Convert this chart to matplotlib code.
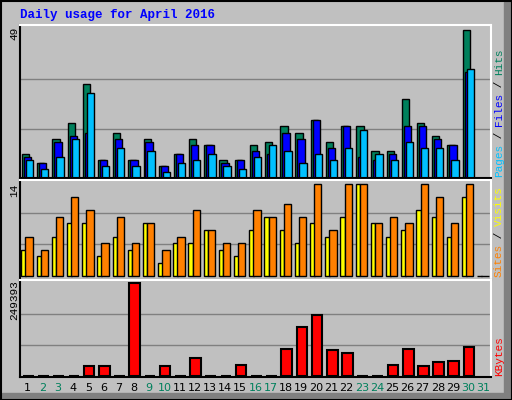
import matplotlib.pyplot as plt
import matplotlib.patches as patches
import numpy as np

days = np.arange(1, 32)
hits = [8, 5, 13, 18, 31, 6, 15, 6, 13, 4, 8, 13, 11, 6, 6, 11, 12, 17, 15, 19, 12, 17, 17, 9, 9, 26, 18, 14, 11, 49, 0]
files = [7, 5, 12, 14, 15, 6, 13, 6, 12, 4, 8, 11, 11, 5, 6, 9, 8, 15, 13, 19, 10, 17, 7, 6, 8, 17, 17, 13, 11, 35, 0]
pages = [6, 3, 7, 13, 28, 4, 10, 4, 9, 2, 5, 6, 8, 4, 3, 7, 11, 9, 5, 8, 6, 10, 16, 8, 6, 12, 10, 10, 6, 36, 0]
sites = [4, 3, 6, 8, 8, 3, 6, 4, 8, 2, 5, 5, 7, 4, 3, 7, 9, 7, 5, 8, 6, 9, 14, 8, 6, 7, 10, 9, 6, 12, 0]
visits = [6, 4, 9, 12, 10, 5, 9, 5, 8, 4, 6, 10, 7, 5, 5, 10, 9, 11, 9, 14, 7, 14, 14, 8, 9, 8, 14, 12, 8, 14, 0]
kbytes = [0, 0, 0, 0, 25500, 25500, 0, 249393, 0, 25500, 0, 47300, 0, 0, 28200, 0, 0,
          71900, 132000, 164700, 69200, 61000, 0, 0, 28200, 71900, 25500, 36400, 39100, 77400, 0]
weekend = [2, 3, 9, 10, 16, 17, 23, 24, 30, 31]

W, H = 512, 400
fig = plt.figure(figsize=(W / 100, H / 100), dpi=100)
fig.patch.set_facecolor('#C0C0C0')
mono = 'Liberation Mono'

# outer frame with shadow
bg = fig.add_axes([0, 0, 1, 1])
bg.set_xlim(0, W); bg.set_ylim(H, 0); bg.axis('off')
bg.add_patch(patches.Rectangle((504, 2), 8, 398, color='#808080'))
bg.add_patch(patches.Rectangle((2, 393), 510, 7, color='#808080'))
bg.add_patch(patches.Rectangle((0.5, 0.5), 511, 399, fill=False, edgecolor='black', lw=1.5))
bg.text(20, 15, 'Daily usage for April 2016', color='#0000FF', fontsize=9,
        fontweight='bold', family=mono, va='center')


def panel(top, bottom, ymin, ymax):
    ax = fig.add_axes([20 / W, 1 - bottom / H, 471 / W, (bottom - top) / H])
    ax.set_facecolor('#C0C0C0')
    ax.set_xlim(0.5, 31.5)
    ax.set_ylim(ymin, ymax)
    ax.set_xticks([]); ax.set_yticks([])
    for s in ax.spines.values():
        s.set_linewidth(1.5)
    ax.spines['top'].set_color('white'); ax.spines['right'].set_color('white')
    return ax


ek = dict(edgecolor='black', linewidth=1)

ax1 = panel(25, 178, 0, 50.5)
for f in (1 / 3, 2 / 3):
    ax1.axhline(49 * f, color='#808080', lw=1, zorder=0)
ax1.bar(days - 0.13, hits, 0.48, color='#00805C', **ek)
ax1.bar(days, files, 0.48, color='#0000FF', **ek)
ax1.bar(days + 0.13, pages, 0.48, color='#00C0FF', **ek)

ax2 = panel(180, 280, -0.6, 14.6)
for f in (1 / 3, 2 / 3):
    ax2.axhline(14 * f + 0.2, color='#808080', lw=1, zorder=0)
ax2.bar(days - 0.26, sites, 0.3, color='#FFFF00', **ek)
ax2.bar(days + 0.1, visits, 0.48, color='#FF8000', **ek)

ax3 = panel(280, 377, -3000, 258000)
for f in (1 / 3, 2 / 3):
    ax3.axhline(249393 * f, color='#808080', lw=1, zorder=0)
ax3.bar(days[:-1] + 0.05, kbytes[:-1], 0.7, color='#FF0000', edgecolor='black', linewidth=1.5)

# value labels on the left
bg.text(14, 33, '49', rotation=90, fontsize=8, family=mono, ha='center', va='center')
bg.text(14, 190, '14', rotation=90, fontsize=8, family=mono, ha='center', va='center')
bg.text(14, 300, '249393', rotation=90, fontsize=8, family=mono, ha='center', va='center')

# right-side legends, bottom to top
def stack(x, y, parts):
    for txt, col in parts:
        t = bg.text(x, y, txt, rotation=90, fontsize=8, family=mono, color=col,
                    ha='center', va='bottom')
        y -= len(txt) * 6.4

stack(499, 177, [('Pages', '#00C0FF'), (' / ', 'black'), ('Files', '#0000FF'),
                 (' / ', 'black'), ('Hits', '#00805C')])
stack(499, 277, [('Sites', '#FF8000'), (' / ', 'black'), ('Visits', '#FFFF00')])
stack(499, 376, [('KBytes', '#FF0000')])

for d in days:
    x = 20 + (d - 0.5) * 471 / 31
    bg.text(x, 388, str(d), fontsize=8, family='DejaVu Sans', ha='center', va='center',
            color='#00805C' if d in weekend else 'black')

fig.savefig('out.png', dpi=100, facecolor=fig.get_facecolor())
